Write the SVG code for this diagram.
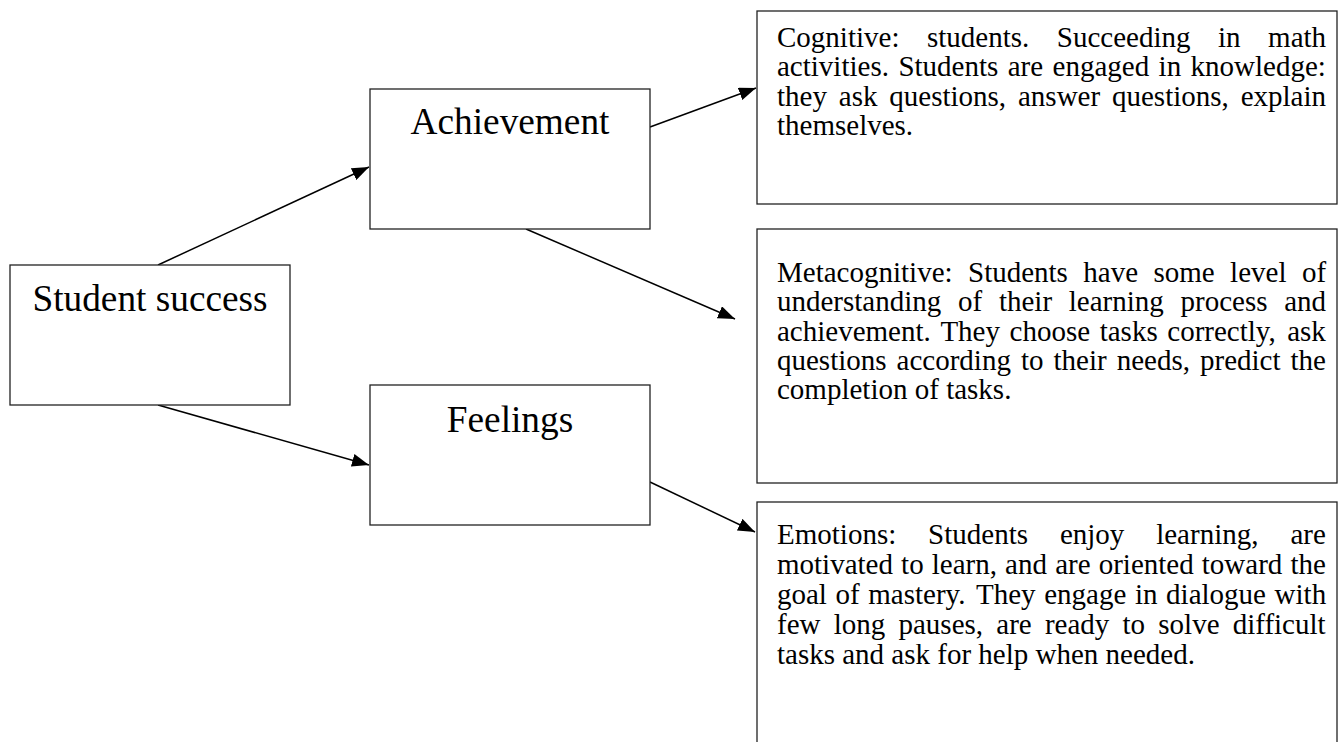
<svg xmlns="http://www.w3.org/2000/svg" width="1339" height="742" viewBox="0 0 1339 742">
<style>
.box{fill:#fff;stroke:#222;stroke-width:1.3}
.big{font-family:"Liberation Serif","Times New Roman",serif;font-size:37.3px;fill:#000;text-anchor:middle}
.t{font-family:"Liberation Serif","Times New Roman",serif;font-size:29px;fill:#000}
.con{stroke:#000;stroke-width:1.5;fill:none;marker-end:url(#ah)}
</style>
<defs>
<marker id="ah" markerUnits="userSpaceOnUse" markerWidth="18" markerHeight="13" refX="17" refY="6.5" orient="auto">
<path d="M0,0 L17,6.5 L0,13 z" fill="#000"/>
</marker>
</defs>
<rect width="1339" height="742" fill="#fff"/>
<g id="connectors">
<line class="con" x1="158" y1="265" x2="369" y2="167"/>
<line class="con" x1="158" y1="405" x2="369" y2="465"/>
<line class="con" x1="650" y1="127" x2="756" y2="88"/>
<line class="con" x1="526" y1="229" x2="735" y2="319"/>
<line class="con" x1="650" y1="482" x2="755" y2="532"/>
</g>
<g id="student-success">
<rect class="box" x="10" y="265" width="280" height="140"/>
<text class="big" x="150" y="311">Student success</text>
</g>
<g id="achievement">
<rect class="box" x="370" y="89" width="280" height="140"/>
<text class="big" x="510" y="134">Achievement</text>
</g>
<g id="feelings">
<rect class="box" x="370" y="385" width="280" height="140"/>
<text class="big" x="510" y="432">Feelings</text>
</g>
<g id="cognitive">
<rect class="box" x="757" y="11" width="580" height="193"/>
<text class="t" y="47"><tspan x="777">Cognitive:</tspan><tspan x="927">students.</tspan><tspan x="1056.8">Succeeding</tspan><tspan x="1218">in</tspan><tspan x="1268.1">math</tspan></text>
<text class="t" y="76.3"><tspan x="777">activities.</tspan><tspan x="898.4">Students</tspan><tspan x="1007.7">are</tspan><tspan x="1052.6">engaged</tspan><tspan x="1158.6">in</tspan><tspan x="1190.6">knowledge:</tspan></text>
<text class="t" y="105.6"><tspan x="777">they</tspan><tspan x="838.8">ask</tspan><tspan x="889.3">questions,</tspan><tspan x="1018">answer</tspan><tspan x="1112">questions,</tspan><tspan x="1240.7">explain</tspan></text>
<text class="t" x="777" y="134.9">themselves.</text>
</g>
<g id="metacognitive">
<rect class="box" x="757" y="229" width="580" height="254"/>
<text class="t" y="282"><tspan x="777">Metacognitive:</tspan><tspan x="968">Students</tspan><tspan x="1083.3">have</tspan><tspan x="1153.5">some</tspan><tspan x="1230.1">level</tspan><tspan x="1301.9">of</tspan></text>
<text class="t" y="311.3"><tspan x="777">understanding</tspan><tspan x="958">of</tspan><tspan x="998.9">their</tspan><tspan x="1068.8">learning</tspan><tspan x="1180.5">process</tspan><tspan x="1284.2">and</tspan></text>
<text class="t" y="340.6"><tspan x="777">achievement.</tspan><tspan x="940.4">They</tspan><tspan x="1009.6">choose</tspan><tspan x="1099.7">tasks</tspan><tspan x="1167.3">correctly,</tspan><tspan x="1287.2">ask</tspan></text>
<text class="t" y="369.9"><tspan x="777">questions</tspan><tspan x="896.6">according</tspan><tspan x="1020.9">to</tspan><tspan x="1053.5">their</tspan><tspan x="1116.7">needs,</tspan><tspan x="1200">predict</tspan><tspan x="1290.5">the</tspan></text>
<text class="t" x="777" y="399.2">completion of tasks.</text>
</g>
<g id="emotions">
<rect class="box" x="757" y="502" width="580" height="260"/>
<text class="t" y="544"><tspan x="777">Emotions:</tspan><tspan x="928.1">Students</tspan><tspan x="1059.9">enjoy</tspan><tspan x="1156.2">learning,</tspan><tspan x="1290.4">are</tspan></text>
<text class="t" y="574"><tspan x="777">motivated</tspan><tspan x="901.1">to</tspan><tspan x="931.8">learn,</tspan><tspan x="1005.1">and</tspan><tspan x="1055.2">are</tspan><tspan x="1098.7">oriented</tspan><tspan x="1201.8">toward</tspan><tspan x="1290.4">the</tspan></text>
<text class="t" y="604"><tspan x="777">goal</tspan><tspan x="835.5">of</tspan><tspan x="868.3">mastery.</tspan><tspan x="976">They</tspan><tspan x="1044.2">engage</tspan><tspan x="1134.9">in</tspan><tspan x="1166.1">dialogue</tspan><tspan x="1274.6">with</tspan></text>
<text class="t" y="634"><tspan x="777">few</tspan><tspan x="833.7">long</tspan><tspan x="898.5">pauses,</tspan><tspan x="996.3">are</tspan><tspan x="1044.9">ready</tspan><tspan x="1122.5">to</tspan><tspan x="1158.3">solve</tspan><tspan x="1232.7">difficult</tspan></text>
<text class="t" x="777" y="664">tasks and ask for help when needed.</text>
</g>
</svg>
